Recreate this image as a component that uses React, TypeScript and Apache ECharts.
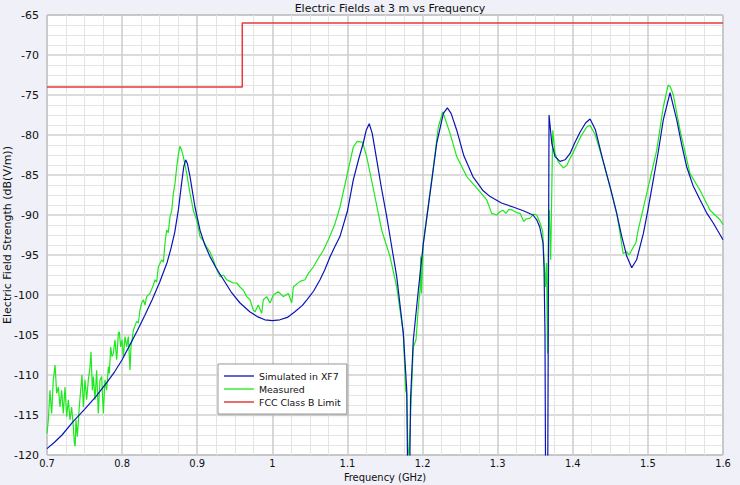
import React, { useEffect, useRef } from "react";
import * as echarts from "echarts";

const TITLE = "Electric Fields at 3 m vs Frequency";
const X_NAME = "Frequency (GHz)";
const Y_NAME = "Electric Field Strength (dB(V/m))";
const SERIES_NAMES = ["Simulated in XF7", "Measured", "FCC Class B Limit"];

// Simulated in XF7 : [GHz, dB(V/m)]
const simulated: [number, number][] = [
  [0.7, -119.2], [0.71, -118.4], [0.72, -117.5], [0.735, -115.8], [0.75, -114.3],
  [0.765, -112.7], [0.78, -110.9], [0.79, -109.6], [0.8, -108.1], [0.81, -106.3],
  [0.82, -104.5], [0.83, -102.6], [0.84, -100.6], [0.85, -98.4], [0.86, -95.9],
  [0.865, -94.2], [0.87, -92.2], [0.875, -89.3], [0.879, -86.2], [0.882, -84.0],
  [0.8846, -83.1], [0.887, -83.6], [0.8904, -85.2], [0.897, -89], [0.9037, -91.9],
  [0.91, -93.7], [0.917, -95.2], [0.925, -96.6], [0.935, -98.1], [0.945, -99.6],
  [0.957, -101], [0.97, -102.1], [0.98, -102.7], [0.99, -103.1], [1.0, -103.2],
  [1.01, -103.1], [1.02, -102.8], [1.03, -102.1], [1.04, -101.3], [1.046, -100.6],
  [1.055, -99.5], [1.0635, -98.1], [1.07, -96.8], [1.077, -95.2], [1.083, -94.0],
  [1.09, -92.7], [1.1, -89.5], [1.1078, -85.6], [1.115, -83.0], [1.1211, -81],
  [1.125, -79.4], [1.129, -78.6], [1.133, -79.8], [1.139, -83.1], [1.145, -86.5],
  [1.1523, -90.2], [1.159, -94], [1.1656, -97.7], [1.1744, -104.8], [1.179, -112],
  [1.1815, -135], [1.184, -113], [1.1877, -105.6], [1.1944, -99.4], [1.201, -93.6],
  [1.21, -87.3], [1.2189, -81], [1.2277, -77.3], [1.233, -76.6], [1.238, -77.3],
  [1.2455, -79.4], [1.255, -82.6], [1.267, -85.2], [1.28, -86.9], [1.29, -87.7],
  [1.305, -88.5], [1.3205, -89.0], [1.335, -89.5], [1.347, -90.0], [1.352, -90.6],
  [1.356, -91.5], [1.3604, -93.5], [1.3617, -96.5], [1.363, -104.8], [1.3645, -140],
  [1.366, -140], [1.3684, -77.5], [1.372, -81], [1.3764, -82.7], [1.383, -83.3],
  [1.3897, -83.1], [1.3964, -82.3], [1.403, -80.9], [1.41, -79.6], [1.417, -78.5],
  [1.423, -78.0], [1.43, -79.3], [1.44, -83.1], [1.45, -86.6], [1.4585, -89.8],
  [1.465, -92.6], [1.472, -95.2], [1.4785, -96.6], [1.485, -95.6], [1.494, -92.3],
  [1.5, -89.4], [1.5072, -85.6], [1.514, -82], [1.5205, -78.1], [1.5295, -74.7],
  [1.5384, -78.1], [1.545, -81.2], [1.5517, -84], [1.56, -86.3], [1.5694, -88.1],
  [1.578, -89.7], [1.587, -91], [1.6, -93.1],
];

// Measured : [GHz, dB(V/m)]
const measured: [number, number][] = [
  [0.7, -117.3], [0.7018, -115.6], [0.704, -111.9], [0.7062, -114.8], [0.7084, -110.6],
  [0.7107, -108.75], [0.7129, -112.3], [0.7151, -111.5], [0.7173, -114], [0.7195, -111.9],
  [0.7217, -114.8], [0.724, -111.5], [0.7262, -115.2], [0.7284, -113.1], [0.7306, -115.6],
  [0.7328, -114], [0.7351, -116.5], [0.7364, -118.5], [0.7375, -118.9], [0.7386, -115.6],
  [0.7404, -117.7], [0.743, -114], [0.7448, -111.9], [0.7466, -110], [0.7484, -114],
  [0.7506, -110.6], [0.7528, -113.1], [0.755, -110.6], [0.7573, -108.96], [0.7586, -107.1],
  [0.7604, -111.9], [0.7617, -110.2], [0.7639, -113.1], [0.7661, -109.4], [0.7683, -114.8],
  [0.7706, -110.6], [0.7728, -110.2], [0.775, -114.8], [0.7772, -110.6], [0.7794, -111.9],
  [0.7817, -108.96], [0.783, -109.8], [0.7848, -106.5], [0.7865, -107.7], [0.7883, -107.3],
  [0.7905, -105.6], [0.7928, -108.1], [0.795, -104.8], [0.7963, -104.6], [0.7981, -106.5],
  [0.7999, -105.6], [0.8016, -107.7], [0.8039, -105.2], [0.8061, -106.5], [0.8083, -105.2],
  [0.8105, -109.4], [0.8118, -106.5], [0.815, -104.4], [0.8194, -103.3], [0.8216, -103.5],
  [0.8238, -101.9], [0.826, -101], [0.8283, -100.6], [0.8305, -101.25], [0.8327, -100.2],
  [0.8371, -99.8], [0.8416, -98.75], [0.8438, -98.1], [0.846, -98.4], [0.8482, -96.5],
  [0.8527, -95.6], [0.855, -95.9], [0.8571, -93.5], [0.8593, -91.9], [0.8615, -92.2],
  [0.8638, -90.2], [0.866, -89.5], [0.8682, -87.3], [0.8705, -86.0], [0.8727, -84],
  [0.875, -82.4], [0.877, -81.4], [0.879, -81.8], [0.8815, -82.7], [0.886, -84.8],
  [0.8904, -87.3], [0.895, -89.5], [0.8993, -90.6], [0.9037, -92.7], [0.908, -93.2],
  [0.9126, -94], [0.917, -94.6], [0.9214, -95.6], [0.926, -96.8], [0.9303, -97.7],
  [0.935, -97.5], [0.9393, -98.1], [0.9437, -98.3], [0.948, -98.5], [0.9526, -98.5],
  [0.957, -99.0], [0.9614, -99.4], [0.966, -100.2], [0.9703, -100.6], [0.9747, -101.9],
  [0.977, -102.1], [0.9813, -101.25], [0.9858, -102.3], [0.988, -100.6], [0.9925, -100.2],
  [0.997, -101], [1.0013, -100], [1.008, -99.6], [1.0147, -100.2], [1.0213, -99.8],
  [1.0258, -101], [1.028, -99], [1.0369, -98.3], [1.0435, -98.1], [1.048, -97.3],
  [1.0546, -96.5], [1.0612, -95.4], [1.068, -94.4], [1.075, -93], [1.083, -91.2],
  [1.0901, -89], [1.099, -85.2], [1.1078, -81.5], [1.113, -80.8], [1.12, -80.9],
  [1.1256, -82.7], [1.134, -86.5], [1.1456, -91.9], [1.1567, -95.2], [1.1656, -99],
  [1.1744, -104.8], [1.1775, -112], [1.179, -112.3], [1.181, -122], [1.1842, -114.8],
  [1.1855, -111.5], [1.1877, -106.5], [1.1913, -105.6], [1.1944, -101.5], [1.1966, -99.4],
  [1.1975, -95.2], [1.1985, -99.8], [1.201, -93.5], [1.2056, -90.2], [1.2144, -84],
  [1.221, -79], [1.2269, -77.1], [1.2366, -79.8], [1.2455, -82.7], [1.2588, -85.2],
  [1.272, -86.6], [1.2854, -88.1], [1.292, -89.8], [1.2987, -90], [1.303, -89.6],
  [1.307, -89.4], [1.311, -89.8], [1.315, -89.3], [1.32, -89.4], [1.325, -89.7],
  [1.33, -89.8], [1.3347, -90.8], [1.338, -90.5], [1.343, -90.4], [1.348, -89.9],
  [1.352, -90], [1.3564, -91], [1.36, -92.1], [1.3617, -95.6], [1.3635, -99],
  [1.365, -96], [1.3665, -107.3], [1.3675, -92], [1.3688, -89.4], [1.3706, -95.6],
  [1.3733, -79.4], [1.3764, -82.3], [1.3808, -83.4], [1.3875, -84.1], [1.392, -83.8],
  [1.3964, -82.9], [1.4, -82.3], [1.41, -80.3], [1.4186, -79], [1.423, -78.8],
  [1.43, -80], [1.44, -83.1], [1.45, -86.6], [1.4585, -89.8], [1.462, -91.7],
  [1.467, -94.8], [1.472, -94.6], [1.475, -95], [1.4806, -94], [1.484, -93.5],
  [1.487, -91.9], [1.4985, -87.3], [1.5118, -81.9], [1.5205, -76.5], [1.527, -73.75],
  [1.53, -74], [1.5339, -75], [1.5428, -79.4], [1.556, -84.8], [1.5694, -86.9],
  [1.5827, -89.4], [1.596, -90.6], [1.6, -91.2],
];

// FCC Class B limit : [GHz, dB(V/m)]
const fccLimit: [number, number][] = [
  [0.7, -74], [0.96, -74], [0.96, -66], [1.6, -66],
];

const X_MIN = 0.7;
const X_MAX = 1.6;
const Y_MIN = -120;
const Y_MAX = -65;

const COLORS = ["#0a14b4", "#1de81d", "#e01c1c"];

export default function App() {
  const ref = useRef<HTMLDivElement>(null);

  useEffect(() => {
    if (!ref.current) return;
    const chart = echarts.init(ref.current, undefined, { renderer: "svg" });
    const font = "DejaVu Sans";
    const condensed = "DejaVu Sans Condensed, DejaVu Sans";
    chart.setOption({
      animation: false,
      backgroundColor: "#eff0f8",
      title: {
        text: TITLE,
        left: 385,
        textAlign: "center",
        top: -2,
        textStyle: { fontFamily: font, fontSize: 11, fontWeight: "normal", color: "#111" },
      },
      grid: {
        left: 47,
        top: 15,
        width: 676,
        height: 440,
        containLabel: false,
        outerBoundsMode: "none",
        show: true,
        backgroundColor: "#ffffff",
        borderColor: "#6a6a6a",
        borderWidth: 1,
      },
      legend: {
        orient: "vertical",
        left: 218,
        top: 364,
        icon: "rect",
        itemWidth: 30,
        itemHeight: 1.3,
        itemGap: 1,
        padding: [6, 6, 6, 6],
        backgroundColor: "#ffffff",
        borderColor: "#999999",
        borderWidth: 1,
        borderRadius: 0,
        shadowColor: "rgba(0,0,0,0.15)",
        shadowBlur: 2,
        shadowOffsetX: 1,
        shadowOffsetY: 1,
        textStyle: {
          fontFamily: font,
          fontSize: 9.4,
          lineHeight: 12,
          height: 12,
          color: "#111",
          padding: [0, 0, 0, 0],
        },
        data: SERIES_NAMES,
      },
      xAxis: {
        type: "value",
        min: X_MIN,
        max: X_MAX,
        interval: 0.1,
        name: X_NAME,
        nameLocation: "middle",
        nameGap: 17,
        nameMoveOverlap: false,
        nameTextStyle: { fontFamily: condensed, fontSize: 11, color: "#111" },
        axisLine: { show: false },
        axisTick: { show: false },
        axisLabel: { fontFamily: condensed, fontSize: 11, color: "#111", margin: 3 },
        splitLine: { show: true, lineStyle: { color: "#cfcfcf", width: 1.6 } },
        minorTick: { show: false, splitNumber: 4 },
        minorSplitLine: { show: true, lineStyle: { color: "#e4e4e4", width: 1 } },
      },
      yAxis: {
        type: "value",
        min: Y_MIN,
        max: Y_MAX,
        interval: 5,
        name: Y_NAME,
        nameLocation: "middle",
        nameGap: 34,
        nameRotate: 90,
        nameMoveOverlap: false,
        nameTextStyle: { fontFamily: font, fontSize: 11, color: "#111" },
        axisLine: { show: false },
        axisTick: { show: false },
        axisLabel: { fontFamily: font, fontSize: 11, color: "#111", margin: 8 },
        splitLine: { show: true, lineStyle: { color: "#cfcfcf", width: 1.6 } },
        minorTick: { show: false, splitNumber: 4 },
        minorSplitLine: { show: true, lineStyle: { color: "#e4e4e4", width: 1 } },
      },
      series: [
        {
          name: SERIES_NAMES[0],
          type: "line",
          data: simulated,
          symbol: "none",
          clip: true,
          z: 4,
          lineStyle: { color: COLORS[0], width: 1.2 },
          itemStyle: { color: COLORS[0] },
        },
        {
          name: SERIES_NAMES[1],
          type: "line",
          data: measured,
          symbol: "none",
          clip: true,
          z: 3,
          lineStyle: { color: COLORS[1], width: 1.2 },
          itemStyle: { color: COLORS[1] },
        },
        {
          name: SERIES_NAMES[2],
          type: "line",
          data: fccLimit,
          symbol: "none",
          clip: true,
          z: 2,
          lineStyle: { color: "#e8383b", width: 1.5 },
          itemStyle: { color: COLORS[2] },
        },
      ],
    });
    return () => chart.dispose();
  }, []);

  return (
    <div
      ref={ref}
      style={{ position: "fixed", left: 0, top: 0, width: 740, height: 485 }}
    />
  );
}
